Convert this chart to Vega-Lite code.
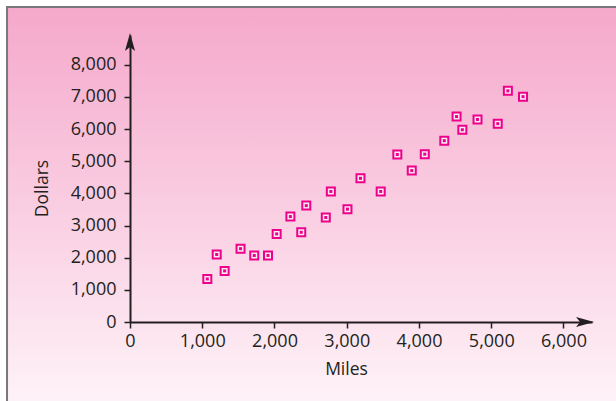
{
  "$schema": "https://vega.github.io/schema/vega-lite/v6.json",
  "width": 462,
  "height": 287,
  "autosize": {"type": "none"},
  "padding": {"left": 130, "top": 35, "right": 24, "bottom": 79},
  "background": "#ffffff",
  "config": {
    "view": {"stroke": null},
    "axis": {
      "labelFont": "Open Sans", "labelFontSize": 18, "labelColor": "#231f20",
      "titleFont": "Open Sans", "titleFontSize": 17.5, "titleFontWeight": "normal", "titleColor": "#231f20",
      "domainColor": "#231f20", "domainWidth": 2, "tickColor": "#231f20", "tickWidth": 1.5, "tickSize": 6,
      "grid": false, "labelFlush": false, "labelOverlap": false
    }
  },
  "datasets": {
    "points": [
      {"miles": 1070, "dollars": 1340},
      {"miles": 1200, "dollars": 2100},
      {"miles": 1310, "dollars": 1590},
      {"miles": 1530, "dollars": 2280},
      {"miles": 1720, "dollars": 2070},
      {"miles": 1910, "dollars": 2070},
      {"miles": 2030, "dollars": 2740},
      {"miles": 2220, "dollars": 3280},
      {"miles": 2370, "dollars": 2790},
      {"miles": 2440, "dollars": 3620},
      {"miles": 2710, "dollars": 3250},
      {"miles": 2780, "dollars": 4060},
      {"miles": 3010, "dollars": 3510},
      {"miles": 3190, "dollars": 4470},
      {"miles": 3470, "dollars": 4060},
      {"miles": 3700, "dollars": 5210},
      {"miles": 3900, "dollars": 4710},
      {"miles": 4080, "dollars": 5220},
      {"miles": 4350, "dollars": 5640},
      {"miles": 4520, "dollars": 6390},
      {"miles": 4600, "dollars": 5980},
      {"miles": 4810, "dollars": 6300},
      {"miles": 5090, "dollars": 6170},
      {"miles": 5230, "dollars": 7190},
      {"miles": 5440, "dollars": 7010}
    ]
  },
  "layer": [
    {
      "data": {"values": [{}]},
      "mark": {
        "type": "rect",
        "fill": {"gradient": "linear", "x1": 0, "y1": 0, "x2": 0, "y2": 1,
          "stops": [{"offset": 0, "color": "#f5a8cb"}, {"offset": 1, "color": "#fef3f8"}]},
        "stroke": "#77787b", "strokeWidth": 2
      },
      "encoding": {
        "x": {"datum": -1702, "type": "quantitative", "title": "Miles",
          "scale": {"domain": [0, 6394.5], "nice": false, "zero": false},
          "axis": {"values": [0, 1000, 2000, 3000, 4000, 5000, 6000], "format": ",.0f", "title": "Miles", "zindex": 2, "tickCount": 7,
            "titleX": 216, "titleY": 47, "titleAlign": "center", "titleBaseline": "middle", "titleAngle": 0, "labelPadding": 4}},
        "x2": {"datum": 6851},
        "y": {"datum": 9798, "type": "quantitative", "title": "Dollars",
          "scale": {"domain": [0, 8927], "nice": false, "zero": false},
          "axis": {"values": [0, 1000, 2000, 3000, 4000, 5000, 6000, 7000, 8000], "format": ",.0f", "title": "Dollars", "zindex": 2, "tickCount": 9,
            "titleX": -88, "titleY": 153, "titleAlign": "center", "titleBaseline": "middle", "titleAngle": -90, "labelPadding": 8}},
        "y2": {"datum": -2613}
      }
    },
    {
      "data": {"values": [{}]},
      "mark": {"type": "point", "shape": "M1,0L-1,-0.56L-0.55,0L-1,0.56Z", "filled": true, "color": "#231f20", "opacity": 1, "size": 324, "strokeWidth": 0},
      "encoding": {
        "x": {"datum": 6298, "type": "quantitative", "title": "Miles",
          "axis": {"values": [0, 1000, 2000, 3000, 4000, 5000, 6000], "format": ",.0f", "title": "Miles", "zindex": 2, "tickCount": 7,
            "titleX": 216, "titleY": 47, "titleAlign": "center", "titleBaseline": "middle", "titleAngle": 0, "labelPadding": 4}},
        "y": {"datum": 0, "type": "quantitative", "title": "Dollars",
          "axis": {"values": [0, 1000, 2000, 3000, 4000, 5000, 6000, 7000, 8000], "format": ",.0f", "title": "Dollars", "zindex": 2, "tickCount": 9,
            "titleX": -88, "titleY": 153, "titleAlign": "center", "titleBaseline": "middle", "titleAngle": -90, "labelPadding": 8}}
      }
    },
    {
      "data": {"values": [{}]},
      "mark": {"type": "point", "shape": "M0,-1L0.56,1L0,0.55L-0.56,1Z", "filled": true, "color": "#231f20", "opacity": 1, "size": 324, "strokeWidth": 0},
      "encoding": {
        "x": {"datum": 0, "type": "quantitative", "title": "Miles",
          "axis": {"values": [0, 1000, 2000, 3000, 4000, 5000, 6000], "format": ",.0f", "title": "Miles", "zindex": 2, "tickCount": 7,
            "titleX": 216, "titleY": 47, "titleAlign": "center", "titleBaseline": "middle", "titleAngle": 0, "labelPadding": 4}},
        "y": {"datum": 8709, "type": "quantitative", "title": "Dollars",
          "axis": {"values": [0, 1000, 2000, 3000, 4000, 5000, 6000, 7000, 8000], "format": ",.0f", "title": "Dollars", "zindex": 2, "tickCount": 9,
            "titleX": -88, "titleY": 153, "titleAlign": "center", "titleBaseline": "middle", "titleAngle": -90, "labelPadding": 8}}
      }
    },
    {
      "data": {"name": "points"},
      "mark": {"type": "point", "shape": "square", "filled": true, "fill": "#fdebf3", "stroke": "#ec008c", "strokeWidth": 2, "size": 64, "opacity": 1},
      "encoding": {
        "x": {"field": "miles", "type": "quantitative", "title": "Miles",
          "axis": {"values": [0, 1000, 2000, 3000, 4000, 5000, 6000], "format": ",.0f", "title": "Miles", "zindex": 2, "tickCount": 7,
            "titleX": 216, "titleY": 47, "titleAlign": "center", "titleBaseline": "middle", "titleAngle": 0, "labelPadding": 4}},
        "y": {"field": "dollars", "type": "quantitative", "title": "Dollars",
          "axis": {"values": [0, 1000, 2000, 3000, 4000, 5000, 6000, 7000, 8000], "format": ",.0f", "title": "Dollars", "zindex": 2, "tickCount": 9,
            "titleX": -88, "titleY": 153, "titleAlign": "center", "titleBaseline": "middle", "titleAngle": -90, "labelPadding": 8}}
      }
    },
    {
      "data": {"name": "points"},
      "mark": {"type": "square", "size": 9, "color": "#ec008c", "opacity": 1},
      "encoding": {
        "x": {"field": "miles", "type": "quantitative", "title": "Miles",
          "axis": {"values": [0, 1000, 2000, 3000, 4000, 5000, 6000], "format": ",.0f", "title": "Miles", "zindex": 2, "tickCount": 7,
            "titleX": 216, "titleY": 47, "titleAlign": "center", "titleBaseline": "middle", "titleAngle": 0, "labelPadding": 4}},
        "y": {"field": "dollars", "type": "quantitative", "title": "Dollars",
          "axis": {"values": [0, 1000, 2000, 3000, 4000, 5000, 6000, 7000, 8000], "format": ",.0f", "title": "Dollars", "zindex": 2, "tickCount": 9,
            "titleX": -88, "titleY": 153, "titleAlign": "center", "titleBaseline": "middle", "titleAngle": -90, "labelPadding": 8}}
      }
    }
  ]
}
